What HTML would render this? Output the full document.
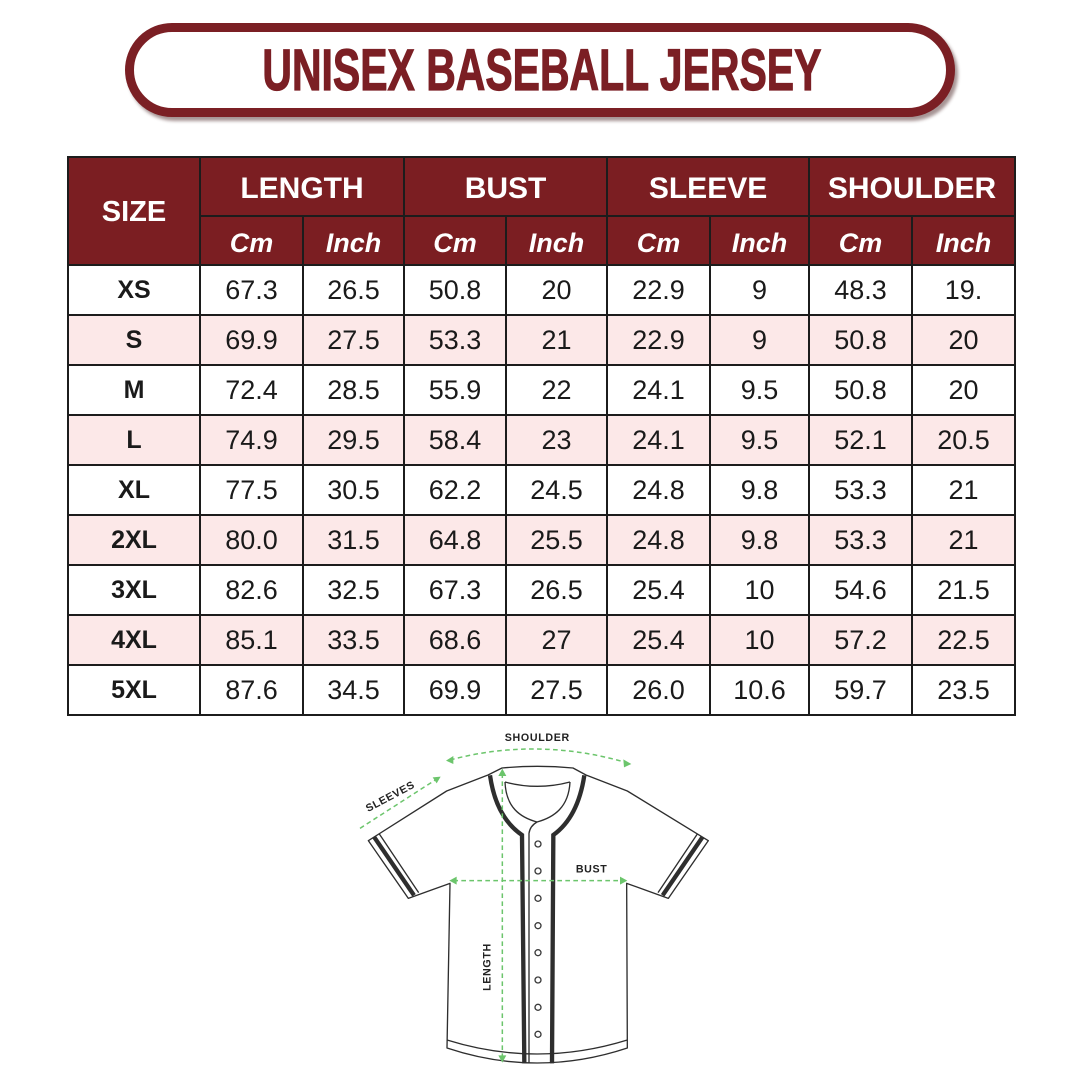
<!DOCTYPE html>
<html>
<head>
<meta charset="utf-8">
<style>
  html,body{margin:0;padding:0;background:#fff;}
  body{width:1080px;height:1080px;position:relative;overflow:hidden;font-family:"Liberation Sans",sans-serif;}
  .pill{position:absolute;left:125px;top:23px;width:812px;height:76px;border:9px solid #7b1f24;border-radius:48px;background:#fff;box-shadow:3px 4px 3px rgba(60,20,20,0.45);}
  .title{position:absolute;left:0;top:41px;width:1084px;text-align:center;height:60px;}
  .title span{display:inline-block;font-weight:bold;font-size:58px;line-height:60px;color:#7b1f24;transform:scaleX(0.706);transform-origin:center;-webkit-text-stroke:1.2px #7b1f24;letter-spacing:0px;}
  table{position:absolute;left:67px;top:156px;border-collapse:collapse;table-layout:fixed;width:947px;}
  td,th{border:2.5px solid #1c1c1c;padding:0;text-align:center;vertical-align:middle;overflow:hidden;white-space:nowrap;}
  th{background:#7b1e22;color:#fff;font-weight:bold;}
  .h1 th{height:52px;font-size:30px;padding-top:5px;}
  .h2 th{height:42px;font-size:27px;font-style:italic;padding-top:5px;}
  th.size{font-size:29px;padding-top:2px;}
  td{height:48px;font-size:27px;color:#1a1a1a;}
  td.s{font-weight:bold;font-size:25px;}
  tr.p td{background:#fce8e8;}
  svg{position:absolute;left:340px;top:720px;}
</style>
</head>
<body>
<div class="pill"></div>
<div class="title"><span>UNISEX BASEBALL JERSEY</span></div>

<table>
  <colgroup>
    <col style="width:132px"><col style="width:103px"><col style="width:101px"><col style="width:102px"><col style="width:101px"><col style="width:103px"><col style="width:99px"><col style="width:103px"><col style="width:103px">
  </colgroup>
  <tr class="h1"><th class="size" rowspan="2">SIZE</th><th colspan="2">LENGTH</th><th colspan="2">BUST</th><th colspan="2">SLEEVE</th><th colspan="2">SHOULDER</th></tr>
  <tr class="h2"><th>Cm</th><th>Inch</th><th>Cm</th><th>Inch</th><th>Cm</th><th>Inch</th><th>Cm</th><th>Inch</th></tr>
  <tr><td class="s">XS</td><td>67.3</td><td>26.5</td><td>50.8</td><td>20</td><td>22.9</td><td>9</td><td>48.3</td><td>19.</td></tr>
  <tr class="p"><td class="s">S</td><td>69.9</td><td>27.5</td><td>53.3</td><td>21</td><td>22.9</td><td>9</td><td>50.8</td><td>20</td></tr>
  <tr><td class="s">M</td><td>72.4</td><td>28.5</td><td>55.9</td><td>22</td><td>24.1</td><td>9.5</td><td>50.8</td><td>20</td></tr>
  <tr class="p"><td class="s">L</td><td>74.9</td><td>29.5</td><td>58.4</td><td>23</td><td>24.1</td><td>9.5</td><td>52.1</td><td>20.5</td></tr>
  <tr><td class="s">XL</td><td>77.5</td><td>30.5</td><td>62.2</td><td>24.5</td><td>24.8</td><td>9.8</td><td>53.3</td><td>21</td></tr>
  <tr class="p"><td class="s">2XL</td><td>80.0</td><td>31.5</td><td>64.8</td><td>25.5</td><td>24.8</td><td>9.8</td><td>53.3</td><td>21</td></tr>
  <tr><td class="s">3XL</td><td>82.6</td><td>32.5</td><td>67.3</td><td>26.5</td><td>25.4</td><td>10</td><td>54.6</td><td>21.5</td></tr>
  <tr class="p"><td class="s">4XL</td><td>85.1</td><td>33.5</td><td>68.6</td><td>27</td><td>25.4</td><td>10</td><td>57.2</td><td>22.5</td></tr>
  <tr><td class="s">5XL</td><td>87.6</td><td>34.5</td><td>69.9</td><td>27.5</td><td>26.0</td><td>10.6</td><td>59.7</td><td>23.5</td></tr>
</table>

<svg width="400" height="350" viewBox="0 0 1200 1050">
  <g fill="none" stroke="#2e2e2e" stroke-width="4" stroke-linejoin="round">
    <path d="M444 165 L320 213 L85 362 L205 535 L330 490 L321 984 Q591 1074 862 984 L860 490 L985 535 L1105 362 L862 213 L738 165" fill="#fff"/>
    <path d="M444 165 L486 144 Q592 134 699 144 L738 165"/>
    <path d="M495 186 Q592 212 690 186"/>
    <path d="M495 186 C498 262 540 292 591 306 C642 292 686 262 690 186"/>
    <path d="M591 306 Q570 318 567 340 L567 1030"/>
    <path d="M321 960 Q591 1044 862 960"/>
    <path d="M118 342 L236 518"/>
    <path d="M1072 342 L954 518"/>
  </g>
  <g fill="none" stroke="#2e2e2e" stroke-width="13" stroke-linecap="butt">
    <path d="M450 166 Q468 292 546 345 L553 1030"/>
    <path d="M733 166 Q714 292 640 345 L636 1030"/>
    <path d="M103 352 L222 526"/>
    <path d="M1087 352 L968 526"/>
  </g>
  <g fill="#fff" stroke="#3a3a3a" stroke-width="4">
    <circle cx="594" cy="372" r="9"/>
    <circle cx="594" cy="453" r="9"/>
    <circle cx="594" cy="535" r="9"/>
    <circle cx="594" cy="617" r="9"/>
    <circle cx="594" cy="698" r="9"/>
    <circle cx="594" cy="780" r="9"/>
    <circle cx="594" cy="862" r="9"/>
    <circle cx="594" cy="943" r="9"/>
  </g>
  <g fill="none" stroke="#6cc56c" stroke-width="4.5" stroke-dasharray="14 10">
    <path d="M330 120 Q592 50 860 128"/>
    <path d="M60 325 L292 176"/>
    <path d="M340 482 L850 482"/>
    <path d="M487 160 L487 1015"/>
  </g>
  <g fill="#6cc56c">
    <polygon points="318,122 340,108 340,132"/>
    <polygon points="874,132 850,118 852,142"/>
    <polygon points="302,170 278,172 290,190"/>
    <polygon points="328,482 350,470 350,494"/>
    <polygon points="862,482 840,470 840,494"/>
    <polygon points="487,146 475,168 499,168"/>
    <polygon points="487,1028 475,1006 499,1006"/>
  </g>
  <g font-family="Liberation Sans, sans-serif" font-weight="bold" fill="#222" font-size="32">
    <text x="592" y="63" text-anchor="middle" letter-spacing="2">SHOULDER</text>
    <text x="150" y="240" text-anchor="middle" letter-spacing="2" transform="rotate(-28 150 228)">SLEEVES</text>
    <text x="755" y="457" text-anchor="middle" letter-spacing="2">BUST</text>
    <text x="463" y="752" text-anchor="middle" letter-spacing="2" transform="rotate(-90 452 752)">LENGTH</text>
  </g>
</svg>
</body>
</html>
